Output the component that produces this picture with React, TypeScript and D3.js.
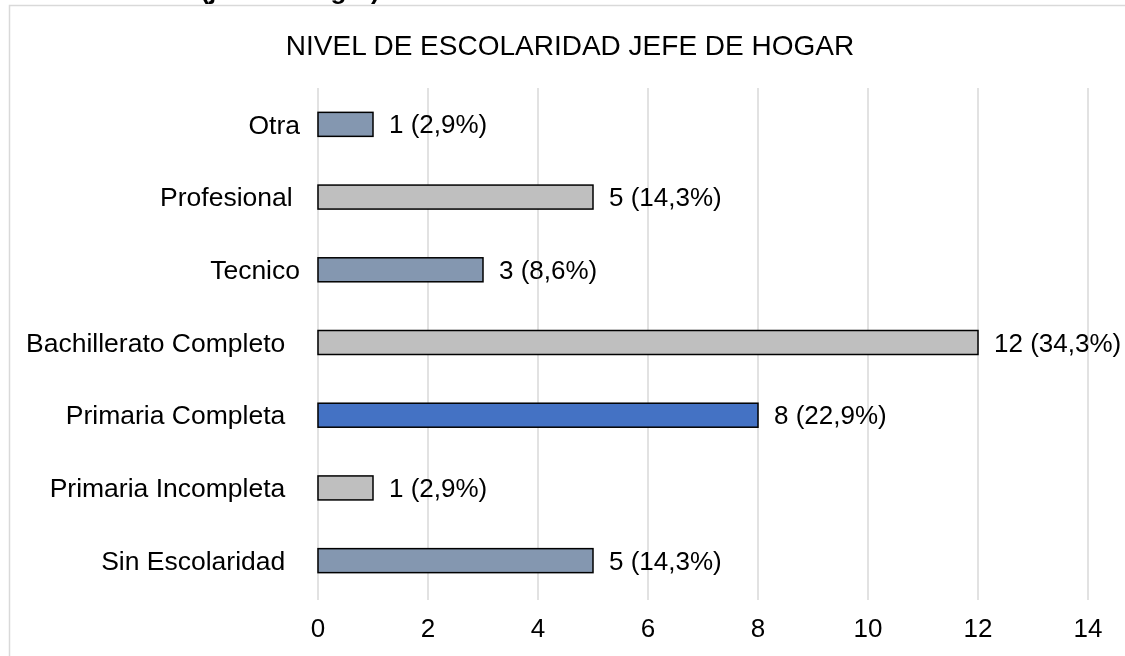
import React, { useRef, useEffect } from "react";
import * as d3 from "d3";

// some labels carry trailing spaces, as in the source sheet
const categories = [
  "Otra",
  "Profesional ",
  "Tecnico",
  "Bachillerato Completo  ",
  "Primaria Completa  ",
  "Primaria Incompleta  ",
  "Sin Escolaridad  ",
];
const values = [1, 5, 3, 12, 8, 1, 5];
const valueLabels = [
  "1 (2,9%)",
  "5 (14,3%)",
  "3 (8,6%)",
  "12 (34,3%)",
  "8 (22,9%)",
  "1 (2,9%)",
  "5 (14,3%)",
];
const barColors = [
  "#8497b0",
  "#bfbfbf",
  "#8497b0",
  "#bfbfbf",
  "#4472c4",
  "#bfbfbf",
  "#8497b0",
];
const xTicks = [0, 2, 4, 6, 8, 10, 12, 14];

const App = () => {
  const svgRef = useRef<SVGSVGElement>(null);

  useEffect(() => {
    const svg = d3.select(svgRef.current);
    svg.selectAll("*").remove();
    const width = 1125;
    const height = 656;
    const font = "Arial, 'Liberation Sans', sans-serif";

    svg.attr("width", width).attr("height", height);

    // caption of the page, cut off by the top edge
    svg
      .append("text")
      .attr("x", 290)
      .attr("y", -1)
      .attr("text-anchor", "middle")
      .style("font-family", font)
      .style("font-size", "26px")
      .style("font-weight", "bold")
      .text("(jefe de hogar)");

    // chart frame
    svg
      .append("rect")
      .attr("x", 9.5)
      .attr("y", 5.5)
      .attr("width", 1130)
      .attr("height", 700)
      .attr("fill", "white")
      .attr("stroke", "#d9d9d9")
      .attr("stroke-width", 1.5);

    const x = d3.scaleLinear().domain([0, 14]).range([318, 1088]);
    const y = d3
      .scaleBand()
      .domain(categories)
      .range([88, 597])
      .paddingInner(0.67)
      .paddingOuter(0.335);

    svg
      .append("text")
      .attr("x", 570)
      .attr("y", 55)
      .attr("text-anchor", "middle")
      .style("font-family", font)
      .style("font-size", "28px")
      .style("fill", "#000")
      .text("NIVEL DE ESCOLARIDAD JEFE DE HOGAR");

    // gridlines
    svg
      .append("g")
      .selectAll("line")
      .data(xTicks)
      .enter()
      .append("line")
      .attr("x1", (d) => x(d))
      .attr("x2", (d) => x(d))
      .attr("y1", 88)
      .attr("y2", 600)
      .attr("stroke", "#d9d9d9")
      .attr("stroke-width", 1.5);

    // x tick labels
    svg
      .append("g")
      .selectAll("text")
      .data(xTicks)
      .enter()
      .append("text")
      .attr("x", (d) => x(d))
      .attr("y", 628)
      .attr("dy", "0.35em")
      .attr("text-anchor", "middle")
      .style("font-family", font)
      .style("font-size", "26px")
      .text((d) => d);

    // bars
    svg
      .append("g")
      .selectAll("rect")
      .data(categories)
      .enter()
      .append("rect")
      .attr("x", x(0))
      .attr("y", (d) => y(d)!)
      .attr("width", (d, i) => x(values[i]) - x(0))
      .attr("height", y.bandwidth())
      .attr("fill", (d, i) => barColors[i])
      .attr("stroke", "#000")
      .attr("stroke-width", 1.5);

    // category labels
    svg
      .append("g")
      .selectAll("text")
      .data(categories)
      .enter()
      .append("text")
      .attr("x", 300)
      .attr("y", (d) => y(d)! + y.bandwidth() / 2)
      .attr("dy", "0.35em")
      .attr("text-anchor", "end")
      .style("font-family", font)
      .style("font-size", "26.5px")
      .style("white-space", "pre")
      .text((d) => d);

    // value labels
    svg
      .append("g")
      .selectAll("text")
      .data(categories)
      .enter()
      .append("text")
      .attr("x", (d, i) => x(values[i]) + 16)
      .attr("y", (d) => y(d)! + y.bandwidth() / 2)
      .attr("dy", "0.35em")
      .style("font-family", font)
      .style("font-size", "26px")
      .text((d, i) => valueLabels[i]);
  }, []);

  return (
    <div style={{ position: "fixed", left: 0, top: 0 }}>
      <svg ref={svgRef} style={{ display: "block" }}></svg>
    </div>
  );
};

export default App;
